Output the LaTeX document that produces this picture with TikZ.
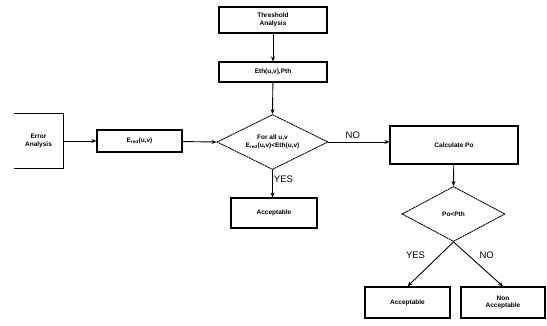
\documentclass[tikz,border=0pt]{standalone}
\usepackage{fontspec}
\setmainfont{Liberation Sans}
\usetikzlibrary{shapes.geometric,arrows.meta}
\tikzset{
  blk/.style={draw, line width=1.2pt, align=center, font=\fontsize{6.5}{7.5}\selectfont\bfseries, inner sep=0pt},
  dec/.style={diamond, draw, line width=0.9pt, dashed, dash pattern=on 2pt off 0.6pt, align=center, font=\fontsize{6.5}{7.5}\selectfont\bfseries, inner sep=0pt, aspect=2},
  arr/.style={-{Stealth[length=5pt,width=4pt]}, line width=0.9pt},
  lbl/.style={font=\fontsize{9.5}{10}\selectfont}
}
\begin{document}
\begin{tikzpicture}[x=1pt,y=1pt]
  \useasboundingbox (0,0) rectangle (547,325);
  % top chain
  \node[blk, minimum width=108pt, minimum height=26pt] (thr) at (273,305) {Threshold\\Analysis};
  \node[blk, minimum width=108pt, minimum height=20pt] (eth) at (273,253) {Eth(u,v),Pth};
  % left chain
  \node[align=center, font=\fontsize{6.5}{7.5}\selectfont\bfseries, minimum width=49pt, minimum height=54pt, inner sep=0pt] (err) at (38.5,184) {Error\\Analysis};
  \draw[line width=1.2pt] (err.north west) -- (err.north east) -- (err.south east) -- (err.south west);
  \node[blk, minimum width=85pt, minimum height=22pt] (ered) at (139.5,184) {E$_{\mathbf{red}}$(u,v)};
  \node[dec, minimum width=111pt, minimum height=55pt] (cond) at (272.5,183) {For all u,v\\E$_{\mathbf{red}}$(u,v)<Eth(u,v)};
  \node[blk, minimum width=86pt, minimum height=30pt] (acc) at (274,112) {Acceptable};
  % right chain
  \node[blk, minimum width=128pt, minimum height=38pt] (calc) at (454,180) {Calculate Po};
  \node[dec, minimum width=103pt, minimum height=55pt] (pod) at (453.5,111) {Po<Pth};
  \node[blk, minimum width=85pt, minimum height=31pt] (acc2) at (407.5,22.5) {Acceptable};
  \node[blk, minimum width=84pt, minimum height=31pt] (nacc) at (503,22.5) {Non\\Acceptable};

  \draw[arr] (thr) -- (eth);
  \draw[arr] (eth) -- (cond.north);
  \draw[arr] (err.east |- ered) -- (ered);
  \draw[arr] (ered) -- (cond.west);
  \draw[arr] (cond.east) -- node[lbl, above, pos=0.4] {NO} (cond.east -| calc.west);
  \draw[arr] (cond.south) -- node[lbl, right, pos=0.35, inner sep=1pt] {YES} (acc.north -| cond.south);
  \draw[arr] (calc) -- (pod.north);
  \draw[arr] (pod.south) -- node[lbl, above left, pos=0.45, xshift=-4pt] {YES} (acc2.north);
  \draw[arr] (pod.south) -- node[lbl, above right, pos=0.45] {NO} (nacc.north);
\end{tikzpicture}
\end{document}
